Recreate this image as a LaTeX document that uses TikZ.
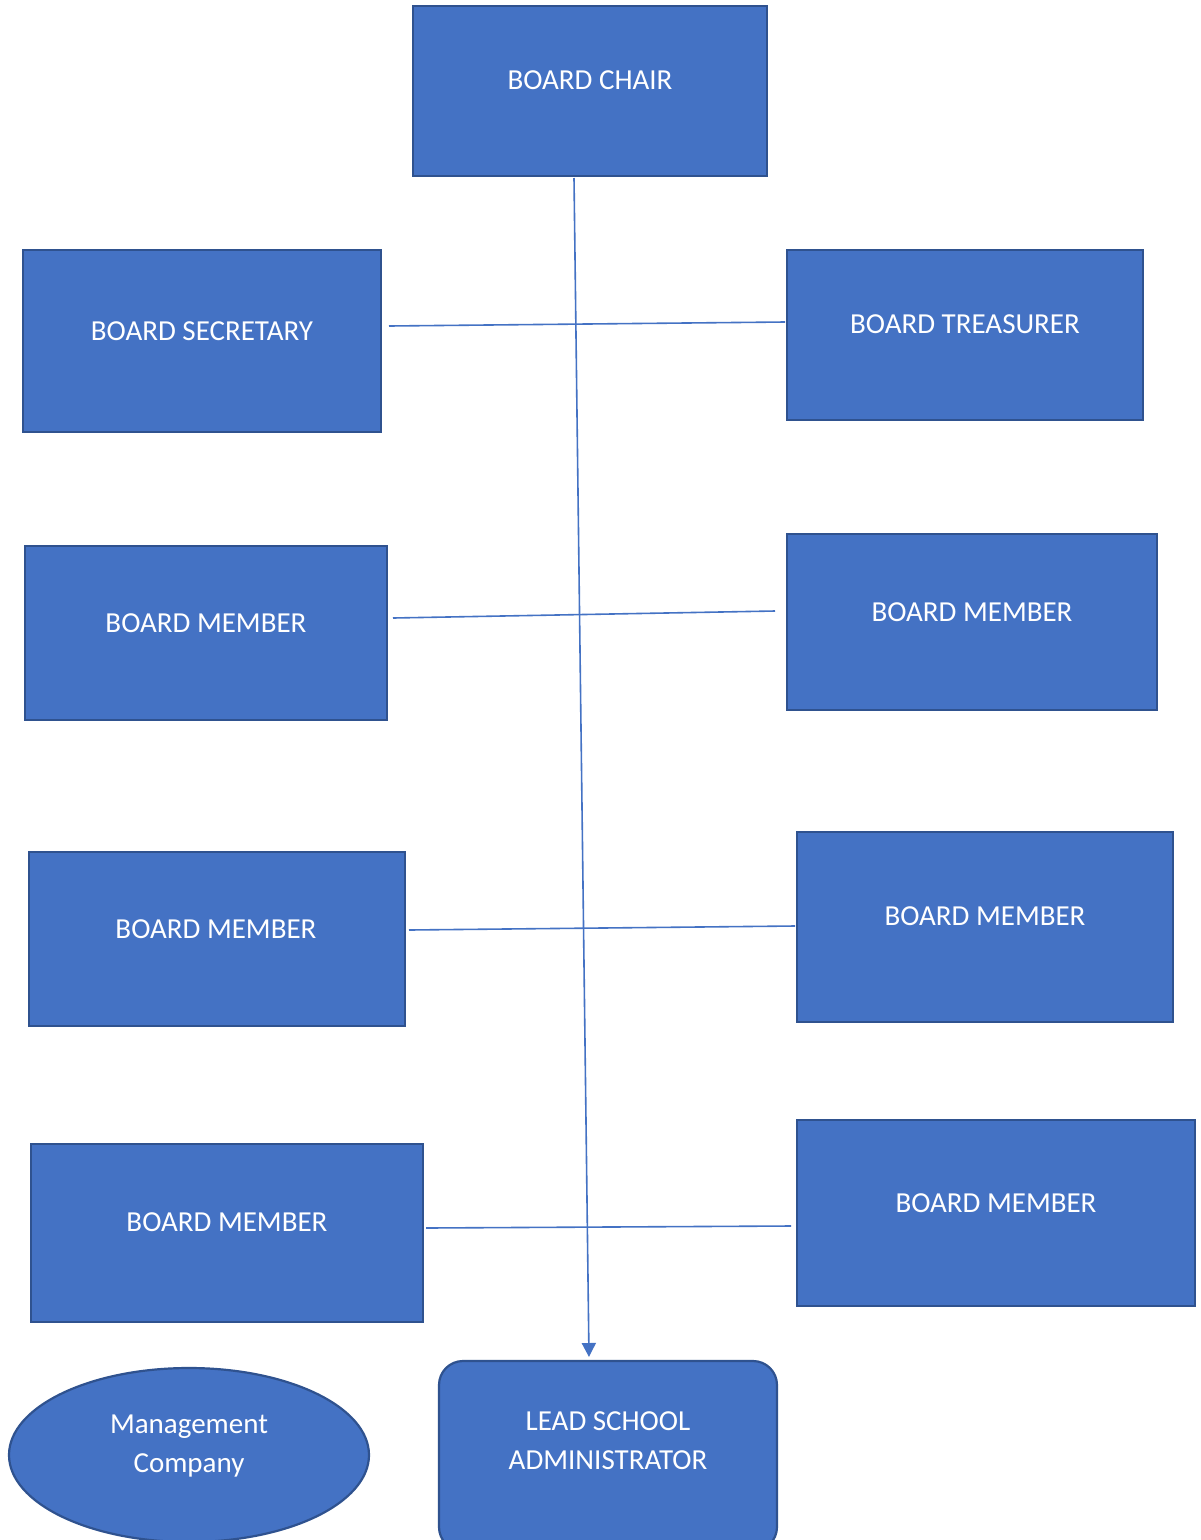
\documentclass[tikz,border=0pt]{standalone}
\usepackage{fontspec}
\setmainfont{Carlito}
\usetikzlibrary{arrows.meta,shapes.geometric}
\definecolor{boxfill}{HTML}{4472C4}
\definecolor{boxline}{HTML}{2F528F}
\begin{document}
\begin{tikzpicture}[x=1pt,y=-1pt,
  box/.style={draw=boxline,line width=2.2pt,fill=boxfill,inner sep=0pt},
  txt/.style={text=white,font=\fontsize{29}{39}\selectfont,align=center,inner sep=0pt},
  conn/.style={draw=boxfill,line width=1.6pt}]
\useasboundingbox (0,0) rectangle (1200,1540);
\fill[white] (0,0) rectangle (1200,1540);
% boxes
\node[box,minimum width=354pt,minimum height=170pt] (chair) at (590,91) {};
\node[box,minimum width=358pt,minimum height=182pt] (sec) at (202,341) {};
\node[box,minimum width=356pt,minimum height=170pt] (treas) at (965,335) {};
\node[box,minimum width=362pt,minimum height=174pt] (ml1) at (206,633) {};
\node[box,minimum width=370pt,minimum height=176pt] (mr1) at (972,622) {};
\node[box,minimum width=376pt,minimum height=174pt] (ml2) at (217,939) {};
\node[box,minimum width=376pt,minimum height=190pt] (mr2) at (985,927) {};
\node[box,minimum width=392pt,minimum height=178pt] (ml3) at (227,1233) {};
\node[box,minimum width=398pt,minimum height=186pt] (mr3) at (996,1213) {};
\node[box,rounded corners=24pt,minimum width=338pt,minimum height=190pt] (lead) at (608,1456) {};
\node[box,ellipse,minimum width=360pt,minimum height=174pt] (mgmt) at (189,1455) {};
% texts
\node[txt] (tchair) at (590,80) {BOARD CHAIR};
\node[txt] (tsec) at (202,331) {BOARD SECRETARY};
\node[txt] (ttreas) at (965,324) {BOARD TREASURER};
\node[txt] (tml1) at (206,623) {BOARD MEMBER};
\node[txt] (tmr1) at (972,612) {BOARD MEMBER};
\node[txt] (tml2) at (216,929) {BOARD MEMBER};
\node[txt] (tmr2) at (985,916) {BOARD MEMBER};
\node[txt] (tml3) at (227,1222) {BOARD MEMBER};
\node[txt] (tmr3) at (996,1203) {BOARD MEMBER};
\node[txt] (tlead) at (608,1441) {LEAD SCHOOL\\ADMINISTRATOR};
\node[txt] (tmgmt) at (189,1446) {Management\\Company};
% connector end points
\coordinate (vtop) at (574,178);
\coordinate (vbot) at (589,1357);
\coordinate (h1a) at (389,326); \coordinate (h1b) at (785,322);
\coordinate (h2a) at (393,618); \coordinate (h2b) at (775,611);
\coordinate (h3a) at (409,930); \coordinate (h3b) at (795,926);
\coordinate (h4a) at (426,1228); \coordinate (h4b) at (791,1226);
% connectors
\draw[conn,-{Triangle[width=14pt,length=14pt]}] (vtop) -- (vbot);
\draw[conn] (h1a) -- (h1b);
\draw[conn] (h2a) -- (h2b);
\draw[conn] (h3a) -- (h3b);
\draw[conn] (h4a) -- (h4b);
\end{tikzpicture}
\end{document}
